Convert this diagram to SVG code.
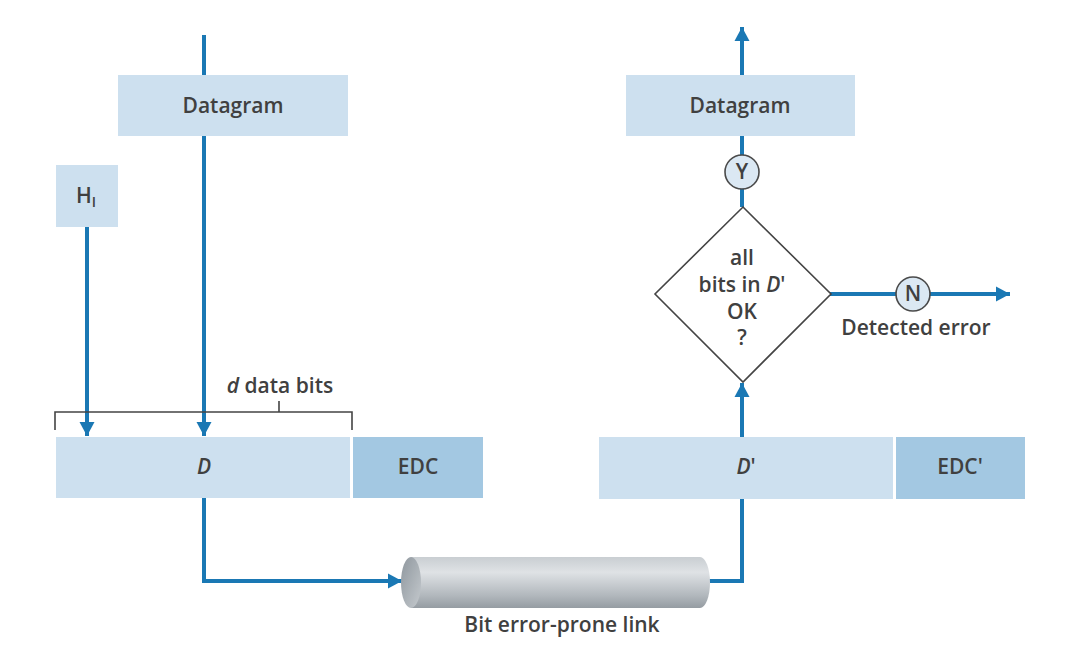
<svg xmlns="http://www.w3.org/2000/svg" width="1075" height="662" viewBox="0 0 1075 662">
<style>
text{font-family:"Open Sans","Noto Sans","Liberation Sans",sans-serif;font-size:21px;font-weight:600;fill:#404040;text-anchor:middle}
.it{font-style:italic}
.lt{fill:#cde0ef}
.dk{fill:#a3c8e2}
.wire{fill:none;stroke:#1a78b4;stroke-width:4}
.circ{fill:#dbe8f3;stroke:#4a4a4a;stroke-width:1.6}
.ln{fill:none;stroke:#444;stroke-width:1.6}
</style>
<defs>
<marker id="ah" markerUnits="userSpaceOnUse" markerWidth="16" markerHeight="16" refX="14" refY="8" orient="auto">
<path d="M0,0.5 L14,8 L0,15.5 Z" fill="#1a78b4"/>
</marker>
<linearGradient id="cyl" x1="0" y1="0" x2="0" y2="1">
<stop offset="0" stop-color="#c9ced2"/>
<stop offset="0.3" stop-color="#dfe2e5"/>
<stop offset="0.75" stop-color="#b2b8bd"/>
<stop offset="1" stop-color="#959ca2"/>
</linearGradient>
<linearGradient id="cap" x1="0" y1="0" x2="1" y2="1">
<stop offset="0" stop-color="#8f979e"/>
<stop offset="1" stop-color="#c4c9cd"/>
</linearGradient>
</defs>
<g id="connectors">
<line class="wire" x1="204" y1="35" x2="204" y2="436" marker-end="url(#ah)"/>
<line class="wire" x1="87" y1="226" x2="87" y2="436" marker-end="url(#ah)"/>
<polyline class="wire" points="204,498 204,581 402,581" marker-end="url(#ah)"/>
<polyline class="wire" points="708,581 742,581 742,498"/>
<line class="wire" x1="742" y1="437" x2="742" y2="383" marker-end="url(#ah)"/>
<line class="wire" x1="742" y1="207" x2="742" y2="136"/>
<line class="wire" x1="742" y1="75" x2="742" y2="27" marker-end="url(#ah)"/>
<line class="wire" x1="830" y1="294" x2="1010" y2="294" marker-end="url(#ah)"/>
</g>
<g id="datagram-left">
<rect class="lt" x="118" y="75" width="230" height="61"/>
<text x="233" y="113">Datagram</text>
</g>
<g id="hl">
<rect class="lt" x="56" y="165" width="62" height="62"/>
<text x="86" y="203">H<tspan font-size="14" dy="4">I</tspan></text>
</g>
<g id="bracket">
<path class="ln" d="M55,430 L55,412 L352,412 L352,430 M279,412 L279,401"/>
<text x="280" y="393"><tspan class="it">d</tspan> data bits</text>
</g>
<g id="d-field">
<rect class="lt" x="56" y="437" width="294" height="61"/>
<text class="it" x="204" y="474">D</text>
</g>
<g id="edc">
<rect class="dk" x="353" y="437" width="130" height="61"/>
<text x="418" y="474">EDC</text>
</g>
<g id="link">
<path d="M411,557 L700,557 A10,25.5 0 0 1 700,608 L411,608 Z" fill="url(#cyl)"/>
<ellipse cx="411" cy="582.5" rx="10" ry="25.5" fill="url(#cap)"/>
<text x="562" y="632">Bit error-prone link</text>
</g>
<g id="d-prime">
<rect class="lt" x="599" y="437" width="294" height="62"/>
<text x="746" y="474"><tspan class="it">D</tspan>'</text>
</g>
<g id="edc-prime">
<rect class="dk" x="896" y="437" width="129" height="62"/>
<text x="960" y="474">EDC'</text>
</g>
<g id="decision">
<path d="M743,207 L831,294 L743,382 L655,294 Z" fill="#fff" stroke="#444" stroke-width="1.6"/>
<text x="742" y="265">all</text>
<text x="742" y="292">bits in <tspan class="it">D</tspan>'</text>
<text x="742" y="319">OK</text>
<text x="742" y="345">?</text>
</g>
<g id="yes">
<circle class="circ" cx="742" cy="172" r="17"/>
<text x="742" y="179">Y</text>
</g>
<g id="no">
<circle class="circ" cx="913" cy="294" r="17"/>
<text x="913" y="301">N</text>
<text x="916" y="335">Detected error</text>
</g>
<g id="datagram-right">
<rect class="lt" x="626" y="75" width="229" height="61"/>
<text x="740" y="113">Datagram</text>
</g>
</svg>
